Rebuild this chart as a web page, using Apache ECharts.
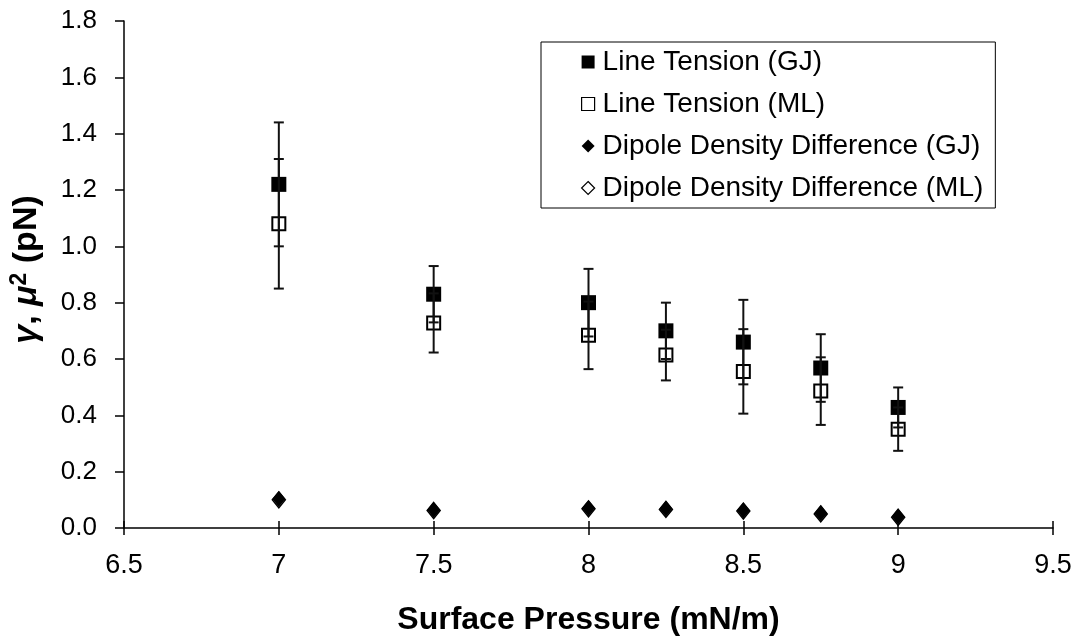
<!DOCTYPE html>
<html>
<head>
<meta charset="utf-8">
<script src="https://cdn.jsdelivr.net/npm/echarts@6/dist/echarts.min.js"></script>
<style>
html,body{margin:0;padding:0;background:#fff;}
#chart{width:1076px;height:644px;}
</style>
</head>
<body>
<div id="chart"></div>
<script>
// ---- data ----
const pressure = [7, 7.5, 8, 8.25, 8.5, 8.75, 9];
const tensionGJ = [1.22, 0.83, 0.80, 0.70, 0.66, 0.568, 0.428];
const tensionGJErr = [0.22, 0.10, 0.12, 0.10, 0.15, 0.12, 0.071];
const tensionML = [1.08, 0.728, 0.684, 0.614, 0.556, 0.486, 0.351];
const tensionMLErr = [0.23, 0.105, 0.12, 0.09, 0.15, 0.12, 0.077];
const dipoleGJ = [0.103, 0.064, 0.070, 0.068, 0.062, 0.052, 0.040];
const dipoleML = [0.100, 0.062, 0.068, 0.066, 0.060, 0.050, 0.038];
const seriesNames = ['Line Tension (GJ)', 'Line Tension (ML)', 'Dipole Density Difference (GJ)', 'Dipole Density Difference (ML)'];
const xAxisTitle = 'Surface Pressure (mN/m)';

const FONT = '"Liberation Sans", Arial, Helvetica, sans-serif';
const pts = (vals) => pressure.map((x, i) => [x, vals[i]]);
const errPts = (vals, errs) => pressure.map((x, i) => [x, vals[i] - errs[i], vals[i] + errs[i]]);

function errorBarRender(params, api) {
  const x = api.value(0);
  const lo = api.coord([x, api.value(1)]);
  const hi = api.coord([x, api.value(2)]);
  const half = 5;
  const style = { stroke: '#111', lineWidth: 2 };
  return {
    type: 'group',
    children: [
      { type: 'line', shape: { x1: lo[0], y1: lo[1], x2: hi[0], y2: hi[1] }, style },
      { type: 'line', shape: { x1: hi[0] - half, y1: hi[1], x2: hi[0] + half, y2: hi[1] }, style },
      { type: 'line', shape: { x1: lo[0] - half, y1: lo[1], x2: lo[0] + half, y2: lo[1] }, style }
    ]
  };
}

const chart = echarts.init(document.getElementById('chart'));
chart.setOption({
  animation: false,
  backgroundColor: '#fff',
  grid: { left: 124, right: 23, top: 21, bottom: 116 },
  legend: {
    orient: 'vertical',
    left: 541,
    top: 42,
    padding: [6, 12, 6, 40],
    itemGap: 14,
    itemWidth: 13,
    itemHeight: 13,
    borderColor: '#000',
    borderWidth: 1,
    selectedMode: false,
    textStyle: { fontSize: 28, fontFamily: FONT, color: '#000', padding: [0, 0, 0, 3] },
    data: [
      { name: seriesNames[0], icon: 'rect', itemStyle: { color: '#000', borderWidth: 0 } },
      { name: seriesNames[1], icon: 'rect', itemStyle: { color: '#fff', borderColor: '#000', borderWidth: 1.2 } },
      { name: seriesNames[2], icon: 'diamond', itemStyle: { color: '#000', borderWidth: 0 } },
      { name: seriesNames[3], icon: 'diamond', itemStyle: { color: '#fff', borderColor: '#000', borderWidth: 1.2 } }
    ]
  },
  xAxis: [{
    type: 'value', min: 6.5, max: 9.5, interval: 0.5,
    name: xAxisTitle, nameLocation: 'middle', nameGap: 76,
    nameTextStyle: { fontSize: 32, fontWeight: 'bold', fontFamily: FONT, color: '#000' },
    axisLine: { onZero: false, lineStyle: { color: '#000', width: 1.5 } },
    axisTick: { length: 7, lineStyle: { color: '#000', width: 1.5 } },
    axisLabel: { fontSize: 27, fontFamily: FONT, color: '#000', margin: 24 },
    splitLine: { show: false }
  }, {
    type: 'value', min: 6.5, max: 9.5, interval: 0.5, position: 'bottom',
    axisLine: { show: false },
    axisTick: { inside: true, length: 7, lineStyle: { color: '#000', width: 1.5 } },
    axisLabel: { show: false },
    splitLine: { show: false }
  }],
  yAxis: {
    type: 'value', min: 0, max: 1.8, interval: 0.2,
    name: '{g|γ}{b|, }{g|μ}{s|2}{b| (pN)}',
    nameLocation: 'middle', nameGap: 78, nameRotate: 90,
    nameTextStyle: {
      fontFamily: FONT, color: '#000', padding: [0, 0, 0, 10],
      rich: {
        g: { fontSize: 34, fontWeight: 'bold', fontStyle: 'italic', fontFamily: FONT, color: '#000', lineHeight: 38 },
        b: { fontSize: 34, fontWeight: 'bold', fontFamily: FONT, color: '#000', lineHeight: 38 },
        s: { fontSize: 23, fontWeight: 'bold', fontFamily: FONT, color: '#000', verticalAlign: 'top', lineHeight: 38 }
      }
    },
    axisLine: { show: true, lineStyle: { color: '#000', width: 1.5 } },
    axisTick: { show: true, length: 9, lineStyle: { color: '#000', width: 1.5 } },
    axisLabel: { fontSize: 26, fontFamily: FONT, color: '#000', margin: 27, formatter: v => v.toFixed(1) },
    splitLine: { show: false }
  },
  series: [
    {
      name: seriesNames[3], type: 'scatter', data: pts(dipoleML), z: 2,
      symbol: 'diamond', symbolSize: [13, 16],
      itemStyle: { color: '#fff', borderColor: '#000', borderWidth: 1.5, opacity: 1 }
    },
    {
      name: seriesNames[2], type: 'scatter', data: pts(dipoleGJ), z: 3,
      symbol: 'diamond', symbolSize: [13, 16],
      itemStyle: { color: '#000', opacity: 1 }
    },
    {
      name: seriesNames[1], type: 'scatter', data: pts(tensionML), z: 3,
      symbol: 'rect', symbolSize: 13,
      itemStyle: { color: '#fff', borderColor: '#000', borderWidth: 2, opacity: 1 }
    },
    {
      name: seriesNames[0], type: 'scatter', data: pts(tensionGJ), z: 3,
      symbol: 'rect', symbolSize: 15,
      itemStyle: { color: '#000', opacity: 1 }
    },
    {
      name: 'errGJ', type: 'custom', renderItem: errorBarRender, z: 4,
      encode: { x: 0, y: [1, 2] }, data: errPts(tensionGJ, tensionGJErr), silent: true
    },
    {
      name: 'errML', type: 'custom', renderItem: errorBarRender, z: 4,
      encode: { x: 0, y: [1, 2] }, data: errPts(tensionML, tensionMLErr), silent: true
    }
  ]
});
</script>
</body>
</html>
